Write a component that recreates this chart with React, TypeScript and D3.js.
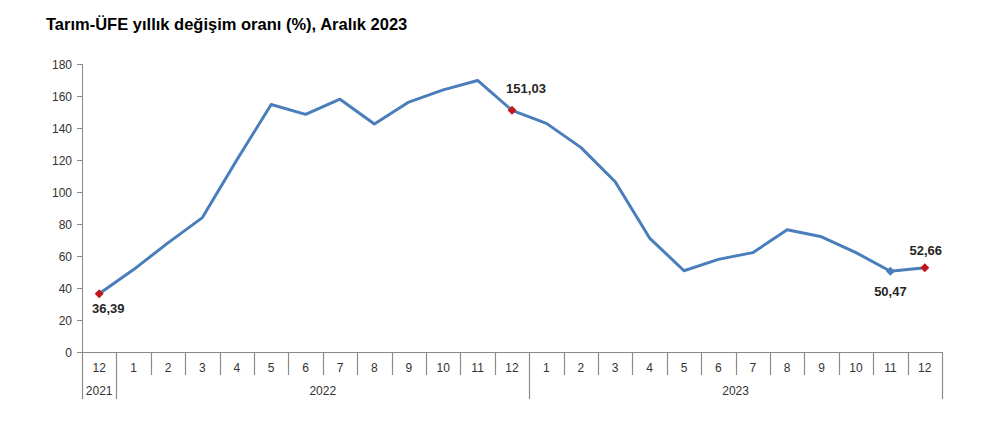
import React from "react";
import * as d3 from "d3";

const months: string[] = ["12","1","2","3","4","5","6","7","8","9","10","11","12","1","2","3","4","5","6","7","8","9","10","11","12"];
const years: { label: string; start: number; end: number }[] = [
  { label: "2021", start: 0, end: 1 },
  { label: "2022", start: 1, end: 13 },
  { label: "2023", start: 13, end: 25 },
];
const values: number[] = [36.39, 51.5, 68.2, 84.0, 120.0, 154.7, 148.5, 158.0, 142.5, 156.2, 163.8, 169.7, 151.03, 142.9, 127.9, 106.4, 71.2, 50.8, 57.9, 62.1, 76.4, 72.0, 62.1, 50.47, 52.66];
const yTicks: number[] = [0, 20, 40, 60, 80, 100, 120, 140, 160, 180];
const labelled: { i: number; text: string; color: string; dx: number; dy: number }[] = [
  { i: 0, text: "36,39", color: "#C0171D", dx: 9, dy: 19 },
  { i: 12, text: "151,03", color: "#C0171D", dx: 14, dy: -17 },
  { i: 23, text: "50,47", color: "#4A7EBB", dx: 0, dy: 25 },
  { i: 24, text: "52,66", color: "#C0171D", dx: 1, dy: -13 },
];
const title = "Tarım-ÜFE yıllık değişim oranı (%), Aralık 2023";

export default function App() {
  const left = 82, right = 942, top = 64, bottom = 352;
  const x = d3.scaleBand<number>().domain(d3.range(months.length)).range([left, right]).padding(0);
  const y = d3.scaleLinear().domain([0, 180]).range([bottom, top]);
  const cx = (i: number) => (x(i) as number) + x.bandwidth() / 2;
  const line = d3.line<number>().x((_, i) => cx(i)).y((d) => y(d));
  const axisColor = "#8a8a8a";
  const textColor = "#333333";
  const font = "Arial, 'Liberation Sans', sans-serif";
  const r = 4.5;
  const diamond = `M0,${-r}L${r},0L0,${r}L${-r},0Z`;

  return (
    <div style={{ position: "fixed", left: 0, top: 0 }}>
      <svg width={985} height={422} style={{ display: "block", background: "#fff" }} fontFamily={font}>
        <text x={46} y={30} fontSize={16.5} fontWeight="bold" fill="#000">{title}</text>
        {/* y axis */}
        <line x1={left + 0.5} x2={left + 0.5} y1={top} y2={bottom} stroke={axisColor} strokeWidth={1} />
        {yTicks.map((t) => (
          <g key={t}>
            <line x1={left - 5} x2={left} y1={Math.round(y(t)) + 0.5} y2={Math.round(y(t)) + 0.5} stroke={axisColor} />
            <text x={72} y={y(t) + 4.5} fontSize={12} textAnchor="end" fill={textColor}>{t}</text>
          </g>
        ))}
        {/* x axis */}
        <line x1={left} x2={right} y1={bottom + 0.5} y2={bottom + 0.5} stroke={axisColor} />
        {d3.range(months.length + 1).map((i) => {
          const xx = Math.round(i < months.length ? (x(i) as number) : right) + 0.5;
          const isYear = years.some((yr) => yr.start === i || yr.end === i);
          return <line key={"s" + i} x1={xx} x2={xx} y1={bottom} y2={isYear ? 399 : 375} stroke={axisColor} strokeWidth={1.2} />;
        })}
        {months.map((m, i) => (
          <text key={"m" + i} x={cx(i)} y={372} fontSize={12} textAnchor="middle" fill={textColor}>{m}</text>
        ))}
        {years.map((yr) => {
          const x0 = x(yr.start) as number;
          const x1 = yr.end < months.length ? (x(yr.end) as number) : right;
          return <text key={yr.label} x={(x0 + x1) / 2} y={395} fontSize={12} textAnchor="middle" fill={textColor}>{yr.label}</text>;
        })}
        {/* line */}
        <path d={line(values) as string} fill="none" stroke="#4A7EBB" strokeWidth={3} strokeLinejoin="round" />
        {labelled.map((l) => (
          <g key={l.i}>
            <path d={diamond} transform={`translate(${cx(l.i)},${y(values[l.i])})`} fill={l.color} />
            <text x={cx(l.i) + l.dx} y={y(values[l.i]) + l.dy} fontSize={13} fontWeight="bold" textAnchor="middle" fill="#262626">{l.text}</text>
          </g>
        ))}
      </svg>
    </div>
  );
}
